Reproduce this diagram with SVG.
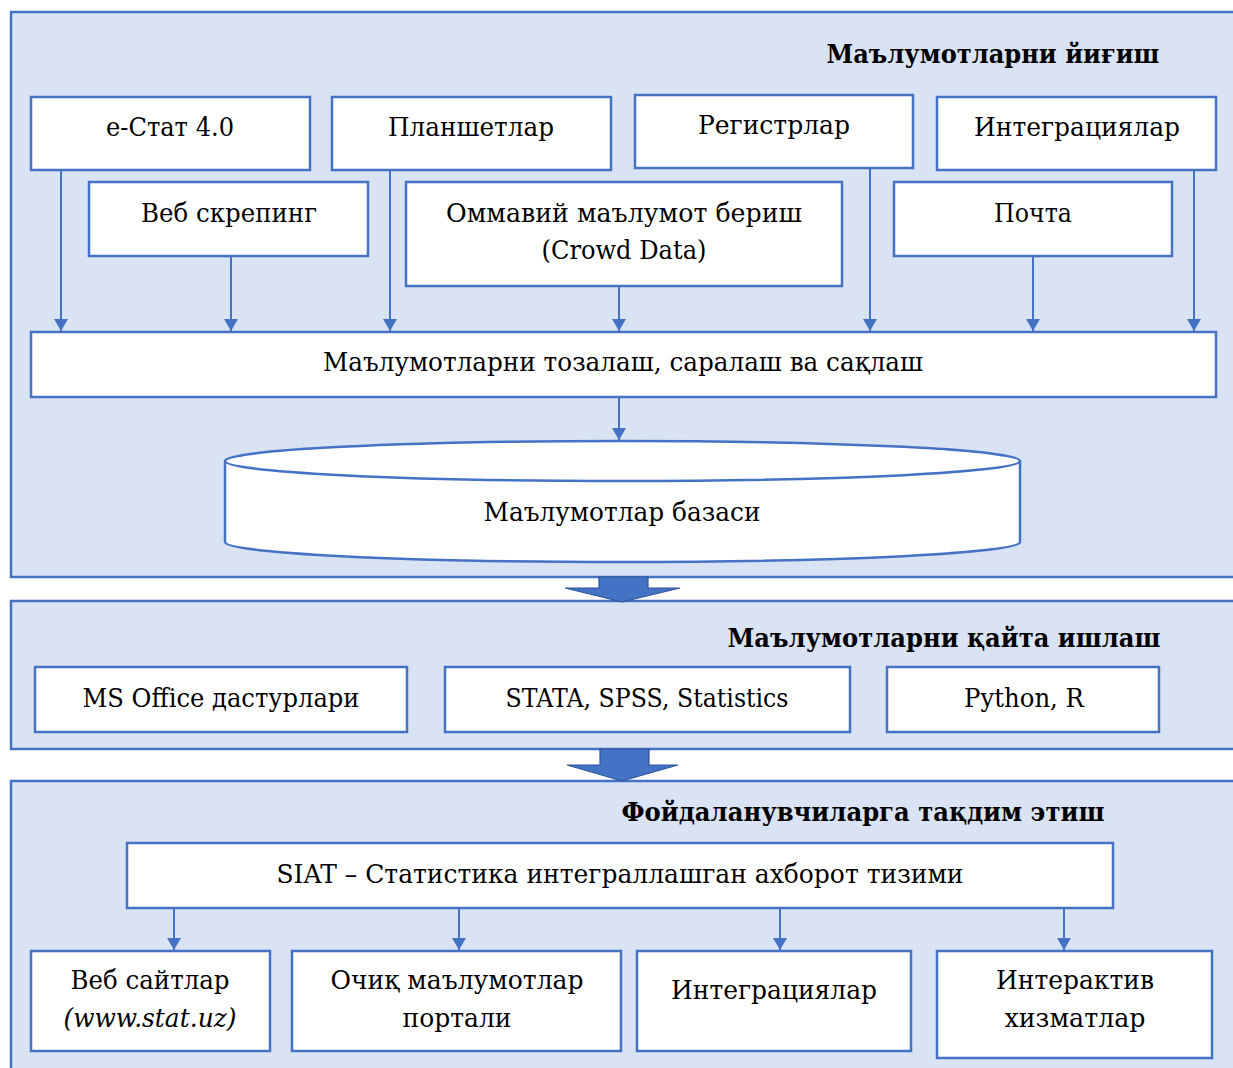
<svg xmlns="http://www.w3.org/2000/svg" width="1233" height="1068" viewBox="0 0 1233 1068">
<defs>
<style>
.panel{fill:#dae3f3;stroke:#4472c4;stroke-width:2.5}
.box{fill:#ffffff;stroke:#4472c4;stroke-width:2.5}
.t{font-family:"DejaVu Serif","Liberation Serif",serif;font-size:26px;fill:#000;text-anchor:middle}
.h{font-family:"DejaVu Serif","Liberation Serif",serif;font-size:26px;font-weight:bold;fill:#000;text-anchor:middle}
.it{font-style:italic}
.conn{stroke:#4472c4;stroke-width:2;fill:none;marker-end:url(#ah)}
.big{fill:#4472c4;stroke:#2f5597;stroke-width:1.2}
</style>
<marker id="ah" viewBox="0 0 12 14" refX="12" refY="7" markerWidth="12" markerHeight="14" markerUnits="userSpaceOnUse" orient="auto">
<path d="M0,0 L12,7 L0,14 Z" fill="#4472c4"/>
</marker>
</defs>

<g id="panels">
<rect id="panel-collect" class="panel" x="11" y="12" width="1232" height="565"/>
<rect id="panel-process" class="panel" x="11" y="601" width="1232" height="148"/>
<rect id="panel-present" class="panel" x="11" y="781" width="1232" height="300"/>
</g>

<g id="big-arrows">
<polygon class="big" points="599,577 648,577 648,588 680,588 622,602 565,588 599,588"/>
<polygon class="big" points="600,749 649,749 649,765 678,765 622,781 567,765 600,765"/>
</g>

<g id="connectors">
<line class="conn" x1="61" y1="170" x2="61" y2="331"/>
<line class="conn" x1="231" y1="256" x2="231" y2="331"/>
<line class="conn" x1="390" y1="170" x2="390" y2="331"/>
<line class="conn" x1="619" y1="286" x2="619" y2="331"/>
<line class="conn" x1="870" y1="168" x2="870" y2="331"/>
<line class="conn" x1="1033" y1="256" x2="1033" y2="331"/>
<line class="conn" x1="1194" y1="170" x2="1194" y2="331"/>
<line class="conn" x1="619" y1="397" x2="619" y2="440"/>
<line class="conn" x1="174" y1="908" x2="174" y2="950"/>
<line class="conn" x1="459" y1="908" x2="459" y2="950"/>
<line class="conn" x1="780" y1="908" x2="780" y2="950"/>
<line class="conn" x1="1064" y1="908" x2="1064" y2="950"/>
</g>

<g id="title-collect"><text class="h" x="993" y="63" textLength="333" lengthAdjust="spacingAndGlyphs">Маълумотларни йиғиш</text></g>

<g id="n-estat"><rect class="box" x="31" y="97" width="279" height="73"/><text class="t" x="170" y="136" textLength="128" lengthAdjust="spacingAndGlyphs">e-Стат 4.0</text></g>
<g id="n-plansh"><rect class="box" x="332" y="97" width="279" height="73"/><text class="t" x="471" y="136" textLength="166" lengthAdjust="spacingAndGlyphs">Планшетлар</text></g>
<g id="n-registr"><rect class="box" x="635" y="95" width="278" height="73"/><text class="t" x="774" y="134" textLength="152" lengthAdjust="spacingAndGlyphs">Регистрлар</text></g>
<g id="n-integr1"><rect class="box" x="937" y="97" width="279" height="73"/><text class="t" x="1077" y="136" textLength="206" lengthAdjust="spacingAndGlyphs">Интеграциялар</text></g>
<g id="n-webscr"><rect class="box" x="89" y="182" width="279" height="74"/><text class="t" x="229" y="222" textLength="176" lengthAdjust="spacingAndGlyphs">Веб скрепинг</text></g>
<g id="n-crowd"><rect class="box" x="406" y="182" width="436" height="104"/><text class="t" x="624" y="222" textLength="356" lengthAdjust="spacingAndGlyphs">Оммавий маълумот бериш</text><text class="t" x="624" y="259" textLength="165" lengthAdjust="spacingAndGlyphs">(Crowd Data)</text></g>
<g id="n-pochta"><rect class="box" x="894" y="182" width="278" height="74"/><text class="t" x="1033" y="222" textLength="78" lengthAdjust="spacingAndGlyphs">Почта</text></g>
<g id="n-clean"><rect class="box" x="31" y="332" width="1185" height="65"/><text class="t" x="623" y="371" textLength="600" lengthAdjust="spacingAndGlyphs">Маълумотларни тозалаш, саралаш ва сақлаш</text></g>
<g id="n-db">
<path class="box" d="M225,461 A397.5,20 0 0 1 1020,461 L1020,542 A397.5,20 0 0 1 225,542 Z"/>
<path d="M225,461 A397.5,20 0 0 0 1020,461" fill="none" stroke="#4472c4" stroke-width="2.5"/>
<text class="t" x="622" y="521" textLength="277" lengthAdjust="spacingAndGlyphs">Маълумотлар базаси</text>
</g>

<g id="title-process"><text class="h" x="944" y="647" textLength="433" lengthAdjust="spacingAndGlyphs">Маълумотларни қайта ишлаш</text></g>
<g id="n-msoffice"><rect class="box" x="35" y="667" width="372" height="65"/><text class="t" x="221" y="707" textLength="277" lengthAdjust="spacingAndGlyphs">MS Office дастурлари</text></g>
<g id="n-stata"><rect class="box" x="445" y="667" width="405" height="65"/><text class="t" x="647" y="707" textLength="283" lengthAdjust="spacingAndGlyphs">STATA, SPSS, Statistics</text></g>
<g id="n-python"><rect class="box" x="887" y="667" width="272" height="65"/><text class="t" x="1024" y="707" textLength="120" lengthAdjust="spacingAndGlyphs">Python, R</text></g>

<g id="title-present"><text class="h" x="863" y="821" textLength="483" lengthAdjust="spacingAndGlyphs">Фойдаланувчиларга тақдим этиш</text></g>
<g id="n-siat"><rect class="box" x="127" y="843" width="986" height="65"/><text class="t" x="620" y="883" textLength="687" lengthAdjust="spacingAndGlyphs">SIAT – Статистика интеграллашган ахборот тизими</text></g>
<g id="n-web"><rect class="box" x="31" y="951" width="239" height="100"/><text class="t" x="150" y="989" textLength="159" lengthAdjust="spacingAndGlyphs">Веб сайтлар</text><text class="t it" x="150" y="1027" textLength="173" lengthAdjust="spacingAndGlyphs">(www.stat.uz)</text></g>
<g id="n-open"><rect class="box" x="292" y="951" width="329" height="100"/><text class="t" x="457" y="989" textLength="253" lengthAdjust="spacingAndGlyphs">Очиқ маълумотлар</text><text class="t" x="457" y="1027" textLength="109" lengthAdjust="spacingAndGlyphs">портали</text></g>
<g id="n-integr2"><rect class="box" x="637" y="951" width="274" height="100"/><text class="t" x="774" y="999" textLength="206" lengthAdjust="spacingAndGlyphs">Интеграциялар</text></g>
<g id="n-interact"><rect class="box" x="937" y="951" width="275" height="107"/><text class="t" x="1075" y="989" textLength="158" lengthAdjust="spacingAndGlyphs">Интерактив</text><text class="t" x="1075" y="1027" textLength="141" lengthAdjust="spacingAndGlyphs">хизматлар</text></g>
</svg>
